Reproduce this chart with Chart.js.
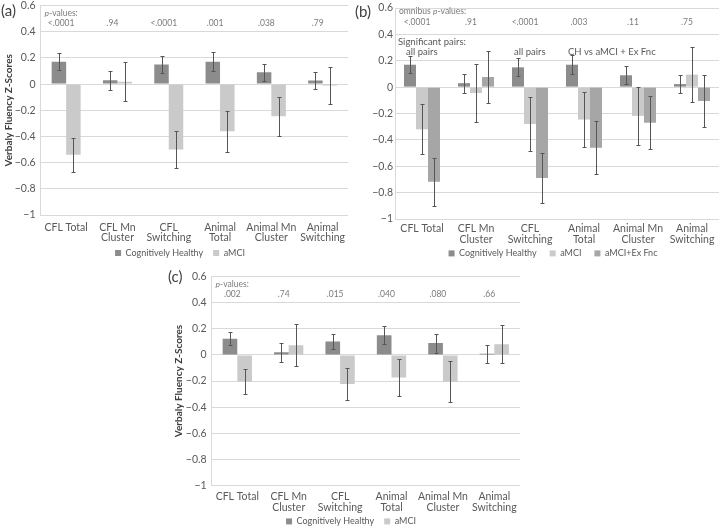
<!DOCTYPE html>
<html><head><meta charset="utf-8">
<script src="https://cdn.jsdelivr.net/npm/chart.js@4.4.1/dist/chart.umd.min.js"></script>
<style>
html,body{margin:0;padding:0;background:#fff;overflow:hidden;width:720px;height:528px;}
canvas{position:absolute;}
.lab{position:absolute;font-family:Lato,"Open Sans",sans-serif;font-size:15px;color:#404040;line-height:1;}
</style></head><body>
<canvas id="ca" width="360" height="275" style="left:0;top:0"></canvas>
<canvas id="cb" width="360" height="275" style="left:360px;top:0"></canvas>
<canvas id="cc" width="400" height="276" style="left:150px;top:262px"></canvas>
<div class="lab" style="left:1px;top:3px">(a)</div>
<div class="lab" style="left:355px;top:4px">(b)</div>
<div class="lab" style="left:168px;top:269px">(c)</div>
<script>
// ---------- data ----------
const categories = [['CFL Total'], ['CFL Mn', 'Cluster'], ['CFL', 'Switching'], ['Animal', 'Total'], ['Animal Mn', 'Cluster'], ['Animal', 'Switching']];
const seriesNames = ['Cognitively Healthy', 'aMCI', 'aMCI+Ex Fnc'];
const yTicks = { min: -1, max: 0.6, step: 0.2 };

// (a)
const healthyA = [0.17, 0.03, 0.15, 0.17, 0.09, 0.028];
const healthyAErr = [0.065, 0.072, 0.068, 0.072, 0.066, 0.068];
const mciA = [-0.54, 0.018, -0.50, -0.36, -0.246, -0.01];
const mciAErr = [0.13, 0.15, 0.142, 0.155, 0.15, 0.141];
const pValuesA = ['<.0001', '.94', '<.0001', '.001', '.038', '.79'];

// (b)
const healthyB = [0.17, 0.03, 0.15, 0.17, 0.09, 0.023];
const healthyBErr = [0.065, 0.072, 0.068, 0.07, 0.068, 0.07];
const mciB = [-0.32, -0.045, -0.28, -0.246, -0.218, 0.095];
const mciBErr = [0.19, 0.22, 0.205, 0.21, 0.22, 0.21];
const exFncB = [-0.718, 0.077, -0.69, -0.46, -0.27, -0.105];
const exFncBErr = [0.18, 0.2, 0.19, 0.2, 0.2, 0.195];
const pValuesB = ['<.0001', '.91', '<.0001', '.003', '.11', '.75'];
const sigPairsB = ['all pairs', '', 'all pairs', 'CH vs aMCI + Ex Fnc', '', ''];

// (c)
const healthyC = [0.123, 0.02, 0.103, 0.151, 0.09, 0.008];
const healthyCErr = [0.05, 0.074, 0.06, 0.068, 0.072, 0.068];
const mciC = [-0.203, 0.074, -0.223, -0.174, -0.205, 0.082];
const mciCErr = [0.097, 0.16, 0.12, 0.143, 0.155, 0.147];
const pValuesC = ['.002', '.74', '.015', '.040', '.080', '.66'];

// ---------- styling ----------
const FONT = 'Lato, "Open Sans", sans-serif';
const TXT = '#595959';
const COL = { healthy: '#8c8c8c', mci: '#cacaca', ex: '#a6a6a6' };

const errPlugin = {
  id: 'errbars',
  afterDatasetsDraw(chart) {
    const ctx = chart.ctx, y = chart.scales.y;
    chart.data.datasets.forEach((ds, di) => {
      const meta = chart.getDatasetMeta(di);
      meta.data.forEach((bar, i) => {
        const v = ds.data[i], e = ds.errors[i];
        const yt = Math.round(y.getPixelForValue(v + e)) + 0.5;
        const yb = Math.round(y.getPixelForValue(v - e)) + 0.5;
        const x = Math.round(bar.x) + 0.5;
        ctx.save();
        ctx.strokeStyle = '#555555';
        ctx.lineWidth = 1;
        ctx.beginPath();
        ctx.moveTo(x, yt); ctx.lineTo(x, yb);
        ctx.moveTo(x - 2, yt); ctx.lineTo(x + 2, yt);
        ctx.moveTo(x - 2, yb); ctx.lineTo(x + 2, yb);
        ctx.stroke();
        ctx.restore();
      });
    });
  }
};

function drawParts(ctx, parts, x, y, size, color) {
  let cx = x;
  parts.forEach(p => {
    ctx.font = (p.i ? 'italic ' : '') + size + 'px ' + FONT;
    ctx.fillStyle = color;
    ctx.fillText(p.t, cx, y);
    cx += ctx.measureText(p.t).width;
  });
}

function notesPlugin(n) {
  return {
    id: 'notes',
    afterDraw(chart) {
      const ctx = chart.ctx, x = chart.scales.x, top = chart.chartArea.top, left = chart.chartArea.left;
      ctx.save();
      ctx.textBaseline = 'middle';
      ctx.textAlign = 'left';
      drawParts(ctx, n.header, left + 4, top + n.headerY, 8.5, '#7a7a7a');
      ctx.font = '8.5px ' + FONT;
      ctx.fillStyle = '#7a7a7a';
      ctx.textAlign = 'center';
      n.values.forEach((t, i) => ctx.fillText(t, x.getPixelForValue(i) - 5, top + n.valuesY));
      if (n.sig) {
        ctx.font = '9.5px ' + FONT;
        ctx.fillStyle = TXT;
        ctx.textAlign = 'left';
        ctx.fillText(n.sigHeader, left + 3, top + n.sigHeaderY);
        n.sig.forEach((t, i) => { if (t) ctx.fillText(t, x.getPixelForValue(i) - 16, top + n.sigY); });
      }
      ctx.restore();
    }
  };
}

function fmtTick(v) {
  const r = Math.round(v * 10) / 10;
  if (r === 0) return '0';
  return r < 0 ? '\u2212' + Math.abs(r) : String(r);
}

// let tick labels extend beyond the (fixed-size) scale box instead of being clipped
function noClip(s) { s._computeLabelArea = function () { return undefined; }; }

function makeChart(id, c) {
  return new Chart(document.getElementById(id), {
    type: 'bar',
    data: { labels: categories, datasets: c.datasets },
    options: {
      responsive: false,
      animation: false,
      devicePixelRatio: 1,
      layout: { padding: c.padding },
      datasets: { bar: { categoryPercentage: c.catPct, barPercentage: 1.0 } },
      plugins: {
        tooltip: { enabled: false },
        legend: {
          position: 'bottom',
          labels: { boxWidth: 6, boxHeight: 6, padding: c.legendGap, color: TXT, font: { size: 9, family: FONT } }
        }
      },
      scales: {
        x: {
          grid: { display: false, drawTicks: false },
          border: { display: false },
          ticks: { color: TXT, font: { size: 10.5, family: FONT, lineHeight: 1.0 }, padding: c.xPad, maxRotation: 0, autoSkip: false },
          afterFit(s) { s.height = c.xHeight; noClip(s); }
        },
        y: {
          min: yTicks.min, max: yTicks.max,
          ticks: { stepSize: yTicks.step, color: TXT, font: { size: 10.5, family: FONT, lineHeight: 0.1 }, padding: c.yPad, callback: fmtTick },
          grid: { color: '#d9d9d9', drawTicks: false },
          border: { display: true, color: '#d9d9d9' },
          title: c.title ? { display: true, text: 'Verbaly Fluency Z-Scores', color: '#404040', font: { size: 10, weight: 'bold', family: FONT }, padding: { top: c.titlePad, bottom: 0 } } : { display: false },
          afterFit(s) { s.width = c.yWidth; noClip(s); }
        }
      }
    },
    plugins: [errPlugin, notesPlugin(c.notes)]
  });
}

const hdrP = [{ t: 'p', i: true }, { t: '-values:', i: false }];

makeChart('ca', {
  datasets: [
    { label: seriesNames[0], data: healthyA, errors: healthyAErr, backgroundColor: COL.healthy },
    { label: seriesNames[1], data: mciA, errors: mciAErr, backgroundColor: COL.mci }
  ],
  catPct: 0.565,
  padding: { left: 11.7, right: 11.7, top: 5.3, bottom: 7.5 },
  yWidth: 28.8, yPad: 5, title: true, titlePad: -9.2, xHeight: 23.4, xPad: 7, legendGap: 10,
  notes: { header: hdrP, headerY: 7.4, values: pValuesA, valuesY: 18 }
});

makeChart('cb', {
  datasets: [
    { label: seriesNames[0], data: healthyB, errors: healthyBErr, backgroundColor: COL.healthy },
    { label: seriesNames[1], data: mciB, errors: mciBErr, backgroundColor: COL.mci },
    { label: seriesNames[2], data: exFncB, errors: exFncBErr, backgroundColor: COL.ex }
  ],
  catPct: 0.667,
  padding: { left: 27, right: 1, top: 8, bottom: 7.1 },
  yWidth: 8, yPad: 2, title: false, titlePad: 0, xHeight: 16.9, xPad: 4.5, legendGap: 13,
  notes: { header: [{ t: 'omnibus ', i: false }].concat(hdrP), headerY: 3.2, values: pValuesB, valuesY: 14.3,
           sigHeader: 'Significant pairs:', sigHeaderY: 34.3, sig: sigPairsB, sigY: 44.3 }
});

makeChart('cc', {
  datasets: [
    { label: seriesNames[0], data: healthyC, errors: healthyCErr, backgroundColor: COL.healthy },
    { label: seriesNames[1], data: mciC, errors: mciCErr, backgroundColor: COL.mci }
  ],
  catPct: 0.57,
  padding: { left: 32, right: 30, top: 14.5, bottom: 2.1 },
  yWidth: 29.6, yPad: 5, title: true, titlePad: -9, xHeight: 21.4, xPad: 6, legendGap: 10,
  notes: { header: hdrP, headerY: 7.5, values: pValuesC, valuesY: 17.8 }
});
</script>
</body></html>
